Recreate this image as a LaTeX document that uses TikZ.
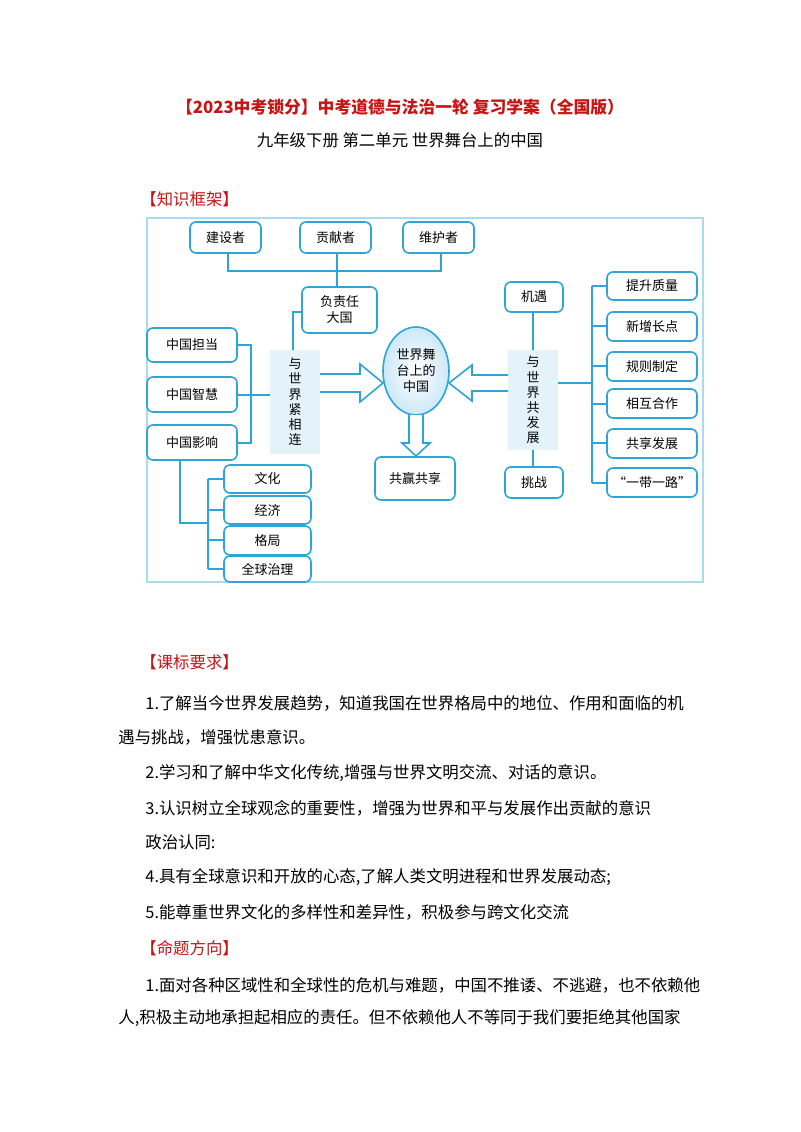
\documentclass[tikz,border=0pt]{standalone}
\usetikzlibrary{shapes.geometric,shadings}
\usepackage{fontspec}
\setmainfont{Noto Sans CJK SC}
\definecolor{boxc}{RGB}{45,165,215}
\definecolor{bandc}{RGB}{228,242,250}
\definecolor{ellc}{RGB}{205,232,248}
\definecolor{redc}{RGB}{200,20,20}
\tikzset{x=0.5pt,y=-0.5pt,
 bx/.style={draw=boxc,line width=0.8pt,rounded corners=3pt,fill=white,font=\fontsize{6.5pt}{8pt}\selectfont,align=center,inner sep=0pt},
 ln/.style={draw=boxc,line width=0.8pt},
 band/.style={fill=bandc,draw=none,font=\fontsize{6.5pt}{7.6pt}\selectfont,align=center,inner sep=0pt},
 body/.style={anchor=west,font=\fontsize{8.2pt}{10pt}\selectfont,inner sep=0pt},
 hd/.style={anchor=west,font=\fontsize{8.2pt}{10pt}\selectfont,text=redc,inner sep=0pt}}
\newcommand{\bxat}[5]{\node[bx,minimum width=#3*0.5pt-#1*0.5pt,minimum height=#4*0.5pt-#2*0.5pt] (#5) at ({(#1+#3)/2},{(#2+#4)/2})}
\begin{document}
\begin{tikzpicture}
\useasboundingbox[fill=white] (0,0) rectangle (800,1132);
\node[font=\bfseries\fontsize{8.4pt}{10pt}\selectfont,text=redc] (title) at (400,107) {【2023中考锁分】中考道德与法治一轮\ 复习学案（全国版）};
\node[font=\fontsize{8.2pt}{10pt}\selectfont] (sub) at (400,140) {九年级下册\ 第二单元\ 世界舞台上的中国};
\node[hd] (h1) at (140,199) {【知识框架】};
\draw[draw=boxc!40,line width=0.8pt] (147,218) rectangle (703,582);
% lines
\draw[ln] (228,253) -- (228,271) -- (441,271) -- (441,253);
\draw[ln] (337,253) -- (337,287);
\draw[ln] (302,312) -- (293,312) -- (293,350);
\draw[ln] (237,345) -- (251,345) -- (251,443) -- (237,443);
\draw[ln] (237,395) -- (270,395);
\draw[ln] (180,460) -- (180,523) -- (208,523);
\draw[ln] (208,479) -- (208,569);
\foreach \y in {479,510,540,569} \draw[ln] (208,\y) -- (224,\y);
\draw[ln] (533,312) -- (533,467);
\draw[ln] (558,383) -- (592,383);
\draw[ln] (592,286) -- (592,483);
\foreach \y in {286,326,366,404,443,483} \draw[ln] (592,\y) -- (607,\y);
% bands
\node[band,minimum width=25pt,minimum height=52pt] (bl) at (295,402) {与\\世\\界\\紧\\相\\连};
\node[band,minimum width=25pt,minimum height=50pt] (br) at (533,400) {与\\世\\界\\共\\发\\展};
% boxes
\bxat{190}{222}{261}{253}{a1} {建设者};
\bxat{300}{222}{371}{253}{a2} {贡献者};
\bxat{403}{222}{474}{253}{a3} {维护者};
\bxat{302}{287}{377}{333}{fz} {负责任\\大国};
\bxat{147}{328}{237}{362}{c1} {中国担当};
\bxat{147}{377}{237}{412}{c2} {中国智慧};
\bxat{147}{425}{237}{460}{c3} {中国影响};
\bxat{224}{465}{311}{493}{d1} {文化};
\bxat{224}{496}{311}{524}{d2} {经济};
\bxat{224}{526}{311}{555}{d3} {格局};
\bxat{224}{556}{311}{582}{d4} {全球治理};
\bxat{375}{457}{455}{500}{gy} {共赢共享};
\bxat{505}{282}{563}{312}{jy} {机遇};
\bxat{505}{467}{563}{498}{tz} {挑战};
\bxat{607}{272}{697}{300}{e1} {提升质量};
\bxat{607}{312}{697}{341}{e2} {新增长点};
\bxat{607}{352}{697}{381}{e3} {规则制定};
\bxat{607}{389}{697}{418}{e4} {相互合作};
\bxat{607}{429}{697}{458}{e5} {共享发展};
\bxat{607}{468}{697}{497}{e6} {“一带一路”};
% ellipse
\node[draw=boxc,line width=0.8pt,ellipse,inner sep=0pt,minimum width=33pt,minimum height=44pt,inner color=white,outer color=ellc,font=\fontsize{6.5pt}{8pt}\selectfont,align=center] (el) at (416,371) {世界舞\\台上的\\中国};
% hollow arrows
\draw[ln,fill=white,line join=miter] (320,374) -- (360,374) -- (360,364) -- (383,383) -- (360,402) -- (360,392) -- (320,392);
\draw[ln,fill=white,line join=miter] (508,375) -- (472,375) -- (472,365) -- (449,383) -- (472,401) -- (472,391) -- (508,391);
\draw[ln,fill=white,line join=miter] (409,415) -- (409,443) -- (402,443) -- (416,456) -- (430,443) -- (423,443) -- (423,415);
% text
\node[hd] (h2) at (140,662) {【课标要求】};
\node[body] (t1) at (145,703) {1.了解当今世界发展趋势，知道我国在世界格局中的地位、作用和面临的机};
\node[body] (t2) at (118,737) {遇与挑战，增强忧患意识。};
\node[body] (t3) at (145,773) {2.学习和了解中华文化传统,增强与世界文明交流、对话的意识。};
\node[body] (t4) at (145,808) {3.认识树立全球观念的重要性，增强为世界和平与发展作出贡献的意识};
\node[body] (t5) at (145,842) {政治认同:};
\node[body] (t6) at (145,877) {4.具有全球意识和开放的心态,了解人类文明进程和世界发展动态;};
\node[body] (t7) at (145,912) {5.能尊重世界文化的多样性和差异性，积极参与跨文化交流};
\node[hd] (h3) at (140,948) {【命题方向】};
\node[body] (t8) at (145,985) {1.面对各种区域性和全球性的危机与难题，中国不推诿、不逃避，也不依赖他};
\node[body] (t9) at (118,1018) {人,积极主动地承担起相应的责任。但不依赖他人不等同于我们要拒绝其他国家};
\end{tikzpicture}
\end{document}
